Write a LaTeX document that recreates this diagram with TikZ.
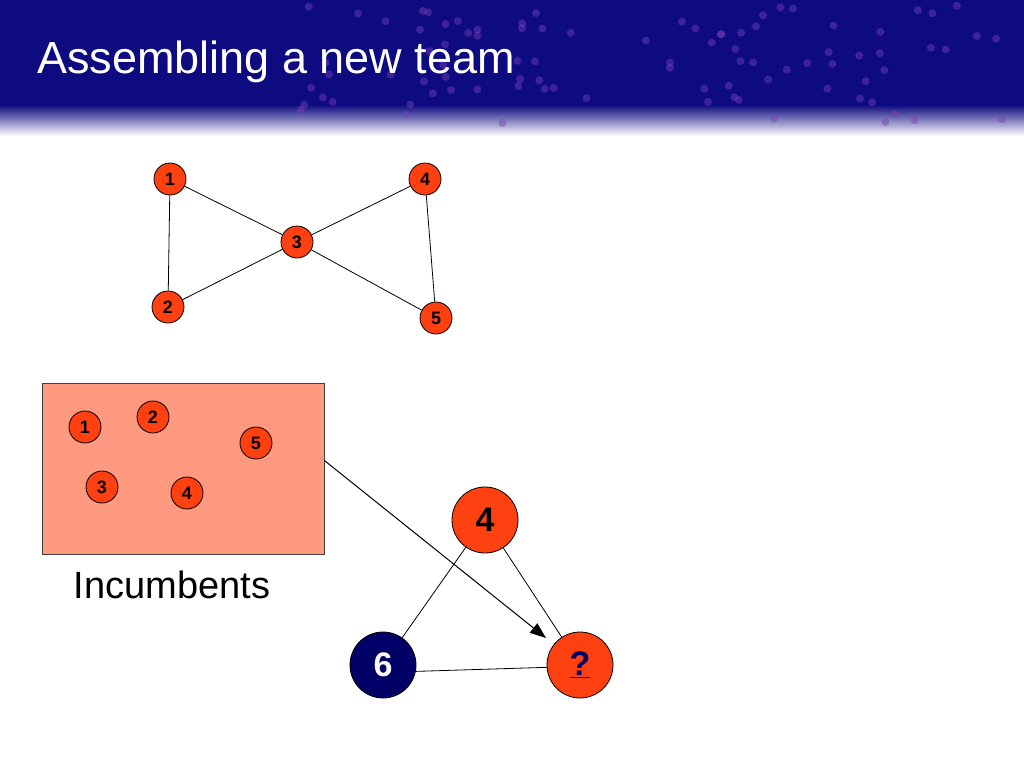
\documentclass[tikz,border=0pt]{standalone}
\usepackage{fontspec}
\setmainfont{Liberation Sans}
\usetikzlibrary{arrows.meta}

\definecolor{Header}{HTML}{0E0B80}
\definecolor{Speck}{HTML}{7A3FB8}
\definecolor{Member}{HTML}{FF4010}
\definecolor{Pool}{HTML}{FF9A80}
\definecolor{Newbie}{HTML}{000066}

\tikzset{
  member/.style={circle, draw=black, fill=Member, line width=0.8pt, minimum size=32pt, inner sep=0pt, font=\fontsize{18}{18}\selectfont\bfseries},
  bigmember/.style={member, minimum size=66pt, font=\fontsize{34}{34}\selectfont\bfseries},
  tie/.style={line width=0.8pt}
}

\begin{document}
\begin{tikzpicture}[x=1pt, y=-1pt]

  \useasboundingbox (0,0) rectangle (1024,768);

  %%%%%%%%%% Header band %%%%%%%%%%
  \fill [color=Header] (0,0) rectangle (1024,106);
  \shade [top color=Header, bottom color=white] (0,105) rectangle (1024,136);
  \pgfmathsetseed{11}
  \foreach \i in {1,...,90}
  {
    \pgfmathsetmacro{\px}{300+720*rnd}
    \pgfmathsetmacro{\py}{5+120*rnd}
    \fill [color=Speck, opacity=0.45] (\px,\py) circle (4);
  }
  \node [anchor=base west, text=white, font=\fontsize{45}{45}\selectfont, inner sep=0pt] (title) at (37,74) {Assembling a new team};

  %%%%%%%%%% Team graph %%%%%%%%%%
  \node [member] (t1) at (170,179) {1};
  \node [member] (t2) at (168,307) {2};
  \node [member] (t3) at (297,242) {3};
  \node [member] (t4) at (425,179) {4};
  \node [member] (t5) at (436,318) {5};

  \draw [tie] (t1) -- (t2) ;
  \draw [tie] (t1) -- (t3) ;
  \draw [tie] (t2) -- (t3) ;
  \draw [tie] (t3) -- (t4) ;
  \draw [tie] (t3) -- (t5) ;
  \draw [tie] (t4) -- (t5) ;

  %%%%%%%%%% Incumbents pool %%%%%%%%%%
  \node [draw=black!75, fill=Pool, line width=0.8pt, minimum width=282pt, minimum height=171pt, inner sep=0pt] (pool) at (183,468.5) {};
  \node [member] (p1) at (85,427) {1};
  \node [member] (p2) at (153,417) {2};
  \node [member] (p5) at (256,443) {5};
  \node [member] (p3) at (102,487) {3};
  \node [member] (p4) at (187,493) {4};
  \node [font=\fontsize{38}{38}\selectfont, inner sep=0pt] (label) at (172,585) {Incumbents};

  %%%%%%%%%% The new team %%%%%%%%%%
  \node [bigmember] (n4) at (485,520) {4};
  \node [bigmember, fill=Newbie, text=white] (n6) at (383,665) {6};
  \node [bigmember, text=Newbie] (nq) at (580,665) {\underline{?}};

  \draw [tie] (n4) -- (n6) ;
  \draw [tie] (n4) -- (nq) ;
  \draw [tie] (n6.-11) -- (nq.184) ;

  \coordinate (tip) at (546,638);
  \draw [line width=1pt, -{Triangle[length=16pt, width=12pt]}] (pool.east) ++(0,-8) -- (tip) ;

\end{tikzpicture}
\end{document}
